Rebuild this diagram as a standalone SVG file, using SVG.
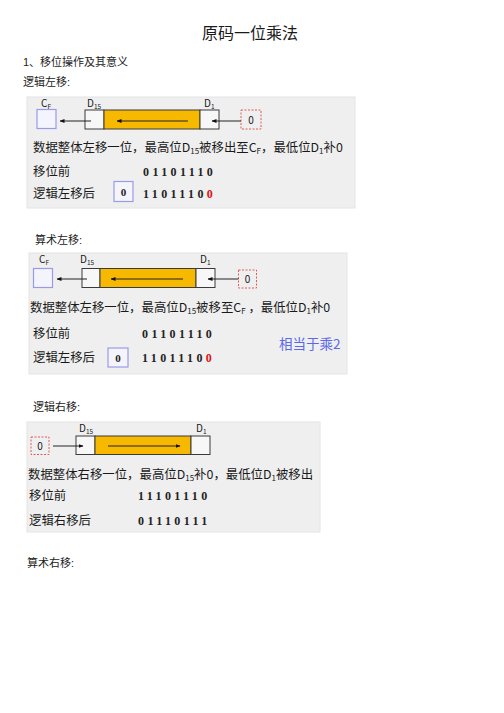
<svg xmlns="http://www.w3.org/2000/svg" width="504" height="713" viewBox="0 0 504 713">
<defs>
<marker id="ah" markerWidth="5" markerHeight="4" refX="4.5" refY="2" orient="auto" markerUnits="userSpaceOnUse">
<path d="M0,0 L5,2 L0,4 z" fill="#111"/>
</marker>
<style>
.t{font-family:"Liberation Sans","Noto Sans CJK SC",sans-serif;fill:#222}
.c{font-family:"Noto Sans CJK SC","Liberation Sans",sans-serif;fill:#1a1a1a}
.bg{fill:#efefef;stroke:#e4e4e4;stroke-width:1}
.cell{fill:#f7f7f7;stroke:#3a3a3a;stroke-width:1}
.bar{fill:#f7b800;stroke:#3a3a3a;stroke-width:1}
.cf{fill:#f4f4fc;stroke:#9a9ae8;stroke-width:1.2}
.zero{fill:none;stroke:#e05a5a;stroke-width:1;stroke-dasharray:2,1.5}
.lbl{font-family:"Noto Sans CJK SC","Liberation Sans",sans-serif;font-size:10px;fill:#1a1a1a}
.num{font-family:"Liberation Serif",serif;font-weight:bold;font-size:12px;letter-spacing:3.4px;fill:#222}
.small{font-family:"Liberation Serif",serif;font-weight:bold;font-size:11px;fill:#222}
.conn line{stroke:#222;stroke-width:1;marker-end:url(#ah)}
</style>
</defs>
<rect width="504" height="713" fill="#fff"/>

<g id="headings">
<text class="c" x="250" y="39" font-size="16" text-anchor="middle">原码一位乘法</text>
<text class="t" x="23" y="66" font-size="11">1、移位操作及其意义</text>
<text class="t" x="23" y="86" font-size="11">逻辑左移:</text>
<text class="t" x="35" y="244" font-size="11">算术左移:</text>
<text class="t" x="33" y="411" font-size="11">逻辑右移:</text>
<text class="t" x="27" y="567" font-size="11">算术右移:</text>
</g>

<!-- Panel 1 -->
<g id="panel1">
<rect class="bg" x="27" y="97" width="328" height="111"/>
<g id="p1-cf"><rect class="cf" x="37" y="109.5" width="19" height="19"/>
<text class="lbl" x="41" y="107">C<tspan font-size="6.5" dy="1.5">F</tspan></text></g>
<g id="p1-d15"><rect class="cell" x="85" y="110" width="19" height="19"/>
<text class="lbl" x="87" y="107">D<tspan font-size="6.5" dy="1.5">15</tspan></text></g>
<g id="p1-bar"><rect class="bar" x="104" y="110" width="96" height="19"/></g>
<g id="p1-d1"><rect class="cell" x="200" y="110" width="19" height="19"/>
<text class="lbl" x="204" y="107">D<tspan font-size="6.5" dy="1.5">1</tspan></text></g>
<g id="p1-zero"><rect class="zero" x="241" y="110" width="20" height="19"/>
<text class="lbl" x="251" y="123.5" text-anchor="middle">0</text></g>
<text class="c" x="33" y="152" font-size="12.4">数据整体左移一位，最高位D<tspan font-size="8" dy="2">15</tspan><tspan dy="-2">被移出至C</tspan><tspan font-size="8" dy="2">F</tspan><tspan dy="-2">，最低位D</tspan><tspan font-size="8" dy="2">1</tspan><tspan dy="-2">补0</tspan></text>
<text class="c" x="33" y="176" font-size="12.4">移位前</text>
<text class="num" x="143" y="176">01101110</text>
<text class="c" x="33" y="198" font-size="12.4">逻辑左移后</text>
<g id="p1-res"><rect class="cf" x="114" y="181.5" width="19" height="20"/>
<text class="small" x="123.5" y="195.5" text-anchor="middle">0</text></g>
<text class="num" x="143" y="198">1101110<tspan fill="#e01010">0</tspan></text>
</g>

<!-- Panel 2 -->
<g id="panel2">
<rect class="bg" x="29" y="253" width="318" height="121"/>
<g id="p2-cf"><rect class="cf" x="33.5" y="268.5" width="19" height="19"/>
<text class="lbl" x="39" y="263">C<tspan font-size="6.5" dy="1.5">F</tspan></text></g>
<g id="p2-d15"><rect class="cell" x="82" y="268.5" width="18" height="19"/>
<text class="lbl" x="80" y="263">D<tspan font-size="6.5" dy="1.5">15</tspan></text></g>
<g id="p2-bar"><rect class="bar" x="100" y="268.5" width="96" height="19"/></g>
<g id="p2-d1"><rect class="cell" x="196" y="268.5" width="19" height="19"/>
<text class="lbl" x="200" y="263">D<tspan font-size="6.5" dy="1.5">1</tspan></text></g>
<g id="p2-zero"><rect class="zero" x="238.5" y="270" width="18" height="18"/>
<text class="lbl" x="247.5" y="283" text-anchor="middle">0</text></g>
<text class="c" x="30" y="312" font-size="12.4">数据整体左移一位，最高位D<tspan font-size="8" dy="2">15</tspan><tspan dy="-2">被移至C</tspan><tspan font-size="8" dy="2">F</tspan><tspan dy="-2"> ，最低位D</tspan><tspan font-size="8" dy="2">1</tspan><tspan dy="-2">补0</tspan></text>
<text class="c" x="33" y="338" font-size="12.4">移位前</text>
<text class="num" x="142" y="338">01101110</text>
<text class="c" x="279" y="349" font-size="13.5" style="fill:#5b68ea">相当于乘2</text>
<text class="c" x="33" y="362" font-size="12.4">逻辑左移后</text>
<g id="p2-res"><rect class="cf" x="108" y="348" width="20" height="19"/>
<text class="small" x="118" y="361.5" text-anchor="middle">0</text></g>
<text class="num" x="142" y="362">1101110<tspan fill="#e01010">0</tspan></text>
</g>

<!-- Panel 3 -->
<g id="panel3">
<rect class="bg" x="27" y="422" width="293" height="110"/>
<g id="p3-zero"><rect class="zero" x="31" y="437" width="18" height="17.5"/>
<text class="lbl" x="40" y="449.5" text-anchor="middle">0</text></g>
<g id="p3-d15"><rect class="cell" x="76" y="436" width="19" height="18.5"/>
<text class="lbl" x="79" y="432">D<tspan font-size="6.5" dy="1.5">15</tspan></text></g>
<g id="p3-bar"><rect class="bar" x="95" y="436" width="96" height="18.5"/></g>
<g id="p3-d1"><rect class="cell" x="191" y="436" width="19" height="18.5"/>
<text class="lbl" x="196" y="432">D<tspan font-size="6.5" dy="1.5">1</tspan></text></g>
<text class="c" x="28" y="479" font-size="12.4">数据整体右移一位，最高位D<tspan font-size="8" dy="2">15</tspan><tspan dy="-2">补0，最低位D</tspan><tspan font-size="8" dy="2">1</tspan><tspan dy="-2">被移出</tspan></text>
<text class="c" x="29" y="500" font-size="12.4">移位前</text>
<text class="num" x="138" y="500">11101110</text>
<text class="c" x="29" y="525" font-size="12.4">逻辑右移后</text>
<text class="num" x="138" y="525">01110111</text>
</g>

<g id="connectors" class="conn">
<line x1="91" y1="121" x2="60" y2="121"/>
<line x1="188" y1="121" x2="117" y2="121"/>
<line x1="241" y1="121" x2="212" y2="121"/>
<line x1="87" y1="279" x2="57" y2="279"/>
<line x1="183" y1="279" x2="111" y2="279"/>
<line x1="238.5" y1="279" x2="208" y2="279"/>
<line x1="53" y1="446" x2="83" y2="446"/>
<line x1="108" y1="446" x2="180" y2="446"/>
</g>
</svg>
